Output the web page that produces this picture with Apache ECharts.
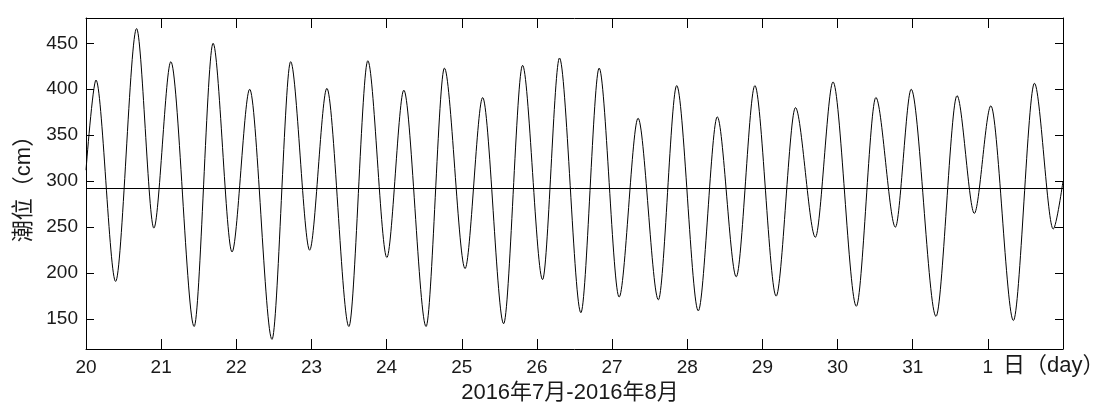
<!DOCTYPE html>
<html>
<head>
<meta charset="utf-8">
<script src="https://cdn.jsdelivr.net/npm/echarts@6/dist/echarts.min.js"></script>
<style>
  html, body { margin: 0; padding: 0; background: #fff; }
  #chart { width: 1094px; height: 404px; }
</style>
</head>
<body>
<div id="chart"></div>
<script>
// Time in days since 2016-07-20 00:00, read at each high / low water
const tideTimes = [
  0.000, 0.133, 0.394, 0.673, 0.903, 1.129, 1.439, 1.691, 1.943, 2.178,
  2.475, 2.723, 2.976, 3.205, 3.498, 3.750, 4.003, 4.229, 4.525, 4.769,
  5.044, 5.278, 5.557, 5.809, 6.075, 6.300, 6.585, 6.828, 7.094, 7.346,
  7.616, 7.860, 8.147, 8.400, 8.652, 8.900, 9.183, 9.440, 9.705, 9.940,
  10.250, 10.510, 10.770, 10.980, 11.310, 11.590, 11.820, 12.040, 12.340, 12.620,
  12.870, 13.000
];
// Tide level (cm)
const tideLevels = [
  312, 410, 191, 466, 249, 430, 142, 450, 223, 400,
  128, 430, 225, 401, 142, 431, 217, 399, 142, 423,
  205, 391, 145, 426, 193, 434, 157, 423, 174, 368.5,
  171, 404, 159, 370, 196, 404, 175, 380, 239, 408,
  164, 391, 250, 400, 153, 393, 265, 382, 148.5, 406.5,
  248, 300
];
const meanLevel = 292.5;
const dayTickLabels = ['20','21','22','23','24','25','26','27','28','29','30','31','1'];
const yTickValues = [150, 200, 250, 300, 350, 400, 450];
const xTitle = '2016年7月-2016年8月';
const xUnit = '日（day）';
const yTitle = '潮位（cm）';

const textColor = '#1a1a1a';
const fontFam = "'Liberation Sans', Arial, 'Noto Sans CJK SC', sans-serif";

const chart = echarts.init(document.getElementById('chart'), null, { renderer: 'canvas' });

const seriesData = tideTimes.map((t, i) => [t, tideLevels[i]]);

const axisLineStyle = { show: true, onZero: false, lineStyle: { color: '#000', width: 1 } };

chart.setOption({
  animation: false,
  backgroundColor: '#fff',
  grid: { left: 86, right: 31, top: 18, bottom: 55, containLabel: false },
  xAxis: [
    {
      type: 'value', position: 'bottom', min: 0, max: 13, interval: 1,
      axisLine: axisLineStyle,
      axisTick: { show: true, inside: true, length: 10, lineStyle: { color: '#000' } },
      axisLabel: {
        show: true, margin: 9, fontSize: 19, color: textColor, fontFamily: fontFam,
        formatter: v => (v >= 0 && v < dayTickLabels.length) ? dayTickLabels[Math.round(v)] : ''
      },
      splitLine: { show: false }
    },
    {
      type: 'value', position: 'top', min: 0, max: 13, interval: 1,
      axisLine: axisLineStyle,
      axisTick: { show: true, inside: true, length: 10, lineStyle: { color: '#000' } },
      axisLabel: { show: false },
      splitLine: { show: false }
    }
  ],
  yAxis: [
    {
      type: 'value', position: 'left', min: 117.5, max: 477.5,
      axisLine: axisLineStyle,
      axisTick: { show: true, inside: true, length: 8, customValues: yTickValues, lineStyle: { color: '#000' } },
      axisLabel: { show: true, margin: 8, fontSize: 19, color: textColor, fontFamily: fontFam, customValues: yTickValues },
      splitLine: { show: false },
      name: yTitle, nameLocation: 'middle', nameGap: 50, nameRotate: 90,
      nameTextStyle: { fontSize: 22, color: textColor, fontFamily: fontFam }
    },
    {
      type: 'value', position: 'right', min: 117.5, max: 477.5,
      axisLine: axisLineStyle,
      axisTick: { show: true, inside: true, length: 8, customValues: yTickValues, lineStyle: { color: '#000' } },
      axisLabel: { show: false, customValues: yTickValues },
      splitLine: { show: false }
    }
  ],
  graphic: [
    {
      type: 'text', left: 1003, top: 355, silent: true,
      style: { text: xUnit, fontSize: 22, fill: textColor, fontFamily: fontFam }
    },
    {
      type: 'text', x: 570, y: 382, silent: true,
      style: { text: xTitle, fontSize: 22, fill: textColor, fontFamily: fontFam, align: 'center', verticalAlign: 'top' }
    }
  ],
  series: [
    {
      type: 'line',
      xAxisIndex: 0, yAxisIndex: 0,
      data: seriesData,
      showSymbol: false, symbol: 'none',
      smooth: 0.3, smoothMonotone: 'x',
      lineStyle: { color: '#000', width: 1 },
      emphasis: { disabled: true },
      silent: true,
      markLine: {
        silent: true, symbol: ['none', 'none'],
        label: { show: false },
        lineStyle: { color: '#000', type: 'solid', width: 1 },
        data: [{ yAxis: meanLevel }]
      }
    }
  ]
});
</script>
</body>
</html>
